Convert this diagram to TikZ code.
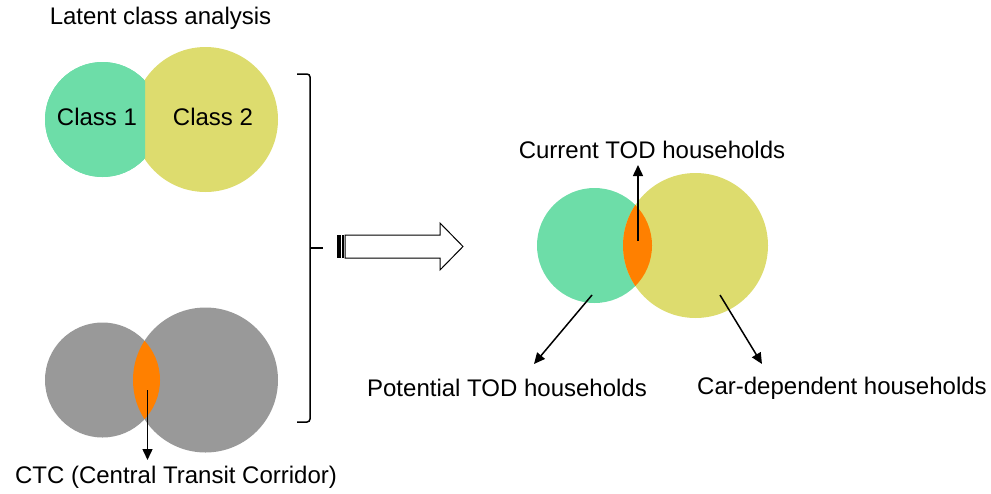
\documentclass[tikz,border=0pt]{standalone}
\usepackage{fontspec}
\setmainfont{Liberation Sans}
\usepackage{tikz}
\usetikzlibrary{arrows.meta, positioning, calc}

\definecolor{classgreen}{RGB}{109,221,168}
\definecolor{classyellow}{RGB}{221,220,110}
\definecolor{ctcgray}{RGB}{153,153,153}
\definecolor{lensorange}{RGB}{255,128,0}

\begin{document}
\begin{tikzpicture}[
  x=1pt, y=-1pt,
  small/.style={circle, inner sep=0pt, minimum size=115pt},
  big/.style={circle, inner sep=0pt, minimum size=145pt},
  txt/.style={inner sep=0pt, font=\fontsize{24}{28}\selectfont},
  arr/.style={-{Triangle[length=11pt,width=10pt]}, line width=1.5pt, black},
  brace/.style={line width=1.5pt, black, rounded corners=3pt}
]
\useasboundingbox (0,0) rectangle (991,493);

%% Latent class analysis (top left)
\node[txt] (title) at (160.5,18) {Latent class analysis};
\node[small, fill=classgreen] (c1) at (102.5,119.5) {};
\node[big, fill=classyellow] (c2) at (205.5,119.5) {};
\begin{scope}
  \clip (0,0) rectangle (145,250);
  \fill[classgreen] (c1.center) circle[radius=57.5pt];
\end{scope}
\node[txt] (c1lbl) at (97,117) {Class 1};
\node[txt] (c2lbl) at (213,117) {Class 2};

%% CTC (bottom left)
\node[small, fill=ctcgray] (g1) at (102.5,380) {};
\node[big, fill=ctcgray] (g2) at (205.5,380) {};
\begin{scope}
  \clip (g1.center) circle[radius=57.5pt];
  \fill[lensorange] (g2.center) circle[radius=72.5pt];
\end{scope}
\node[txt] (ctc) at (176,477) {CTC (Central Transit Corridor)};
\coordinate (ctcfrom) at (147.5,390);
\coordinate (ctcto) at (147.5,460);
\draw[arr] (ctcfrom) -- (ctcto);

%% bracket
\coordinate (brtop) at (297,74);
\coordinate (brbot) at (297,422);
\coordinate (brmid) at (323,248);
\draw[brace] (brtop) -- ++(13,0) -- ($(brbot)+(13,0)$) -- (brbot);
\draw[brace] ($(brmid)+(-13,0)$) -- (brmid);

%% hollow block arrow
\fill (337,235) rectangle (340.5,258);
\fill (342.3,235) rectangle (343.6,258);
\draw[line width=1pt, fill=white]
  (345,235) -- (440,235) -- (440,223) -- (463,246.5)
  -- (440,270) -- (440,258) -- (345,258) -- cycle;

%% result (right)
\node[small, fill=classgreen] (r1) at (594.5,245.5) {};
\node[big, fill=classyellow] (r2) at (695.5,245.5) {};
\begin{scope}
  \clip (r1.center) circle[radius=57.5pt];
  \fill[lensorange] (r2.center) circle[radius=72.5pt];
\end{scope}

\node[txt] (cur) at (652,150) {Current TOD households};
\node[txt] (pot) at (507,388) {Potential TOD households};
\node[txt] (car) at (842,388) {Car-dependent households};

\coordinate (curfrom) at (638,241);
\coordinate (curto) at (638,165);
\coordinate (potfrom) at (592,295);
\coordinate (potto) at (534,364);
\coordinate (carfrom) at (720,295);
\coordinate (carto) at (762,364);
\draw[arr] (curfrom) -- (curto);
\draw[arr] (potfrom) -- (potto);
\draw[arr] (carfrom) -- (carto);

\end{tikzpicture}
\end{document}
